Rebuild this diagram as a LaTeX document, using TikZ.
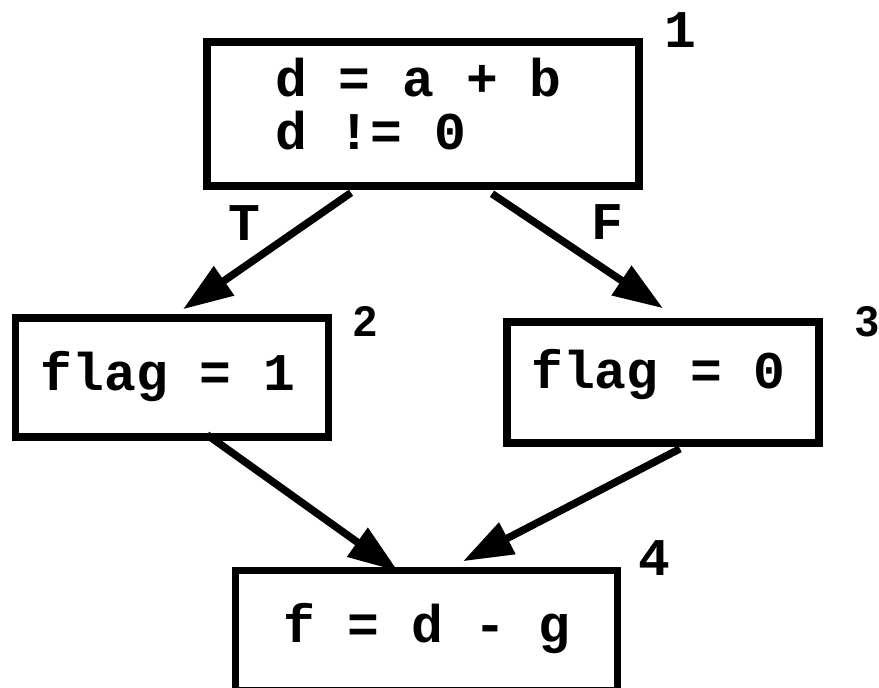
\documentclass[tikz,border=0pt]{standalone}
\usepackage{fontspec}
\newfontfamily\codefont{Liberation Mono}
\newfontfamily\numfont{Liberation Sans}
\usetikzlibrary{arrows.meta,calc}
\begin{document}
\begin{tikzpicture}[x=1pt,y=-1pt,
  blk/.style={draw=black, line width=7.5pt, rectangle, inner sep=0pt},
  code/.style={inner sep=0pt, font=\codefont\bfseries\fontsize{53}{53}\selectfont},
  num/.style={inner sep=0pt, anchor=base, font=\codefont\bfseries\fontsize{53}{53}\selectfont},
  snum/.style={inner sep=0pt, anchor=base, font=\numfont\bfseries\fontsize{43}{43}\selectfont},
  flow/.style={line width=7.5pt, -{Triangle[length=50pt,width=34pt]}}]
\useasboundingbox (0,0) rectangle (879,688);
% boxes
\node[blk, minimum width=432pt, minimum height=144pt] (b1) at (423,114) {};
\node[blk, minimum width=313pt, minimum height=119pt] (b2) at (172,377.5) {};
\node[blk, minimum width=312pt, minimum height=121pt] (b3) at (663,382.5) {};
\node[blk, minimum width=382pt, minimum height=120pt] (b4) at (426.5,630.5) {};
% texts
\node[code, anchor=base west] (t1a) at (275,96) {d = a + b};
\node[code, anchor=base west] (t1b) at (275,149) {d != 0};
\node[code, anchor=base] (t2) at (168,390) {flag = 1};
\node[code, anchor=base] (t3) at (658.5,388) {flag = 0};
\node[code, anchor=base] (t4) at (427,642) {f = d - g};
% block numbers
\node[num] (n1) at (680,47) {1};
\node[snum] (n2) at (365.5,336) {2};
\node[snum] (n3) at (867,336) {3};
\node[num] (n4) at (654.5,575) {4};
% branch labels
\node[num] (lt) at (244,240) {T};
\node[num] (lf) at (607,239) {F};
% connectors
\draw[flow] ($(b1.south)+(-72,3)$) -- ($(b2.north)+(11,-5)$);
\draw[flow] ($(b1.south)+(69,4)$) -- ($(b3.north)+(0,-10)$);
\draw[flow] ($(b2.south)+(35,-6)$) -- ($(b4.north)+(-28.5,4.5)$);
\draw[flow] ($(b3.south)+(17,2)$) -- ($(b4.north)+(36.5,-5.5)$);
\end{tikzpicture}
\end{document}
